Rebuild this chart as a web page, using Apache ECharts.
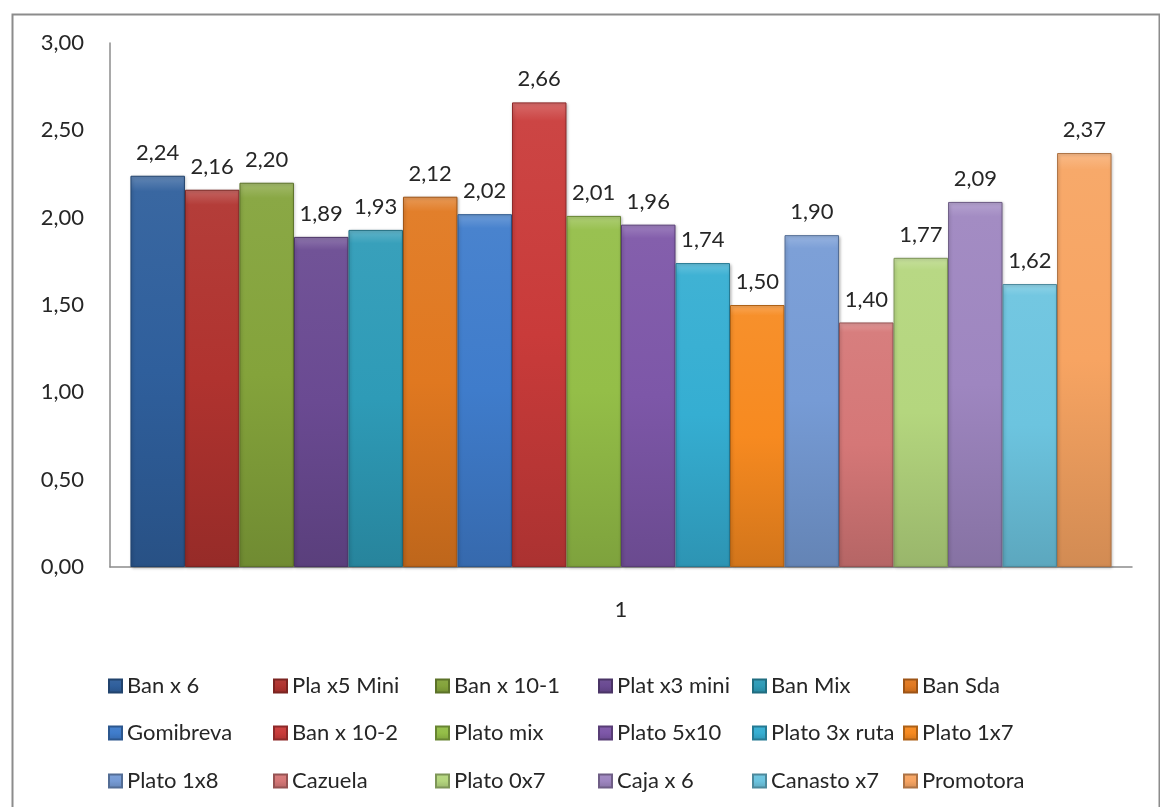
<!doctype html>
<html lang="es">
<head>
    <meta charset="UTF-8" />
    <title>Precios por producto</title>
    <style>
        html, body { margin: 0; padding: 0; background: #fff; }
        #chart { width: 1160px; height: 807px; }
    </style>
</head>
<body>
    <div id="chart"></div>
    <script src="https://cdn.jsdelivr.net/npm/echarts@6/dist/echarts.min.js"></script>
    <script type="text/javascript">
        // datos
        var categories = ['1'];
        var seriesNames = ['Ban x 6', 'Pla x5 Mini', 'Ban x 10-1', 'Plat x3 mini', 'Ban Mix', 'Ban Sda',
            'Gomibreva', 'Ban x 10-2', 'Plato mix', 'Plato 5x10', 'Plato 3x ruta', 'Plato 1x7',
            'Plato 1x8', 'Cazuela', 'Plato 0x7', 'Caja x 6', 'Canasto x7', 'Promotora'];
        var seriesValues = [2.24, 2.16, 2.20, 1.89, 1.93, 2.12,
            2.02, 2.66, 2.01, 1.96, 1.74, 1.50,
            1.90, 1.40, 1.77, 2.09, 1.62, 2.37];
        var yTicks = [0, 0.5, 1, 1.5, 2, 2.5, 3];

        var colors = ['#2F5F9C', '#B0332F', '#84A33B', '#6A4A92', '#2E9BB7', '#E07820',
            '#3F7CCB', '#C93B3A', '#94BE48', '#7D57A8', '#35AED2', '#F78A20',
            '#769BD5', '#D57777', '#B4D67E', '#9E86C0', '#6CC4DF', '#F7A462'];

        var FONT = 'Lato';
        var TXT = '#262626';

        function coma(v) {
            return v.toFixed(2).replace('.', ',');
        }

        // aclara (f>0) u oscurece (f<0) un color hex
        function shade(hex, f) {
            var n = parseInt(hex.slice(1), 16);
            var c = [(n >> 16) & 255, (n >> 8) & 255, n & 255].map(function (x) {
                var y = f < 0 ? x * (1 + f) : x + (255 - x) * f;
                return Math.round(Math.max(0, Math.min(255, y)));
            });
            return 'rgb(' + c.join(',') + ')';
        }

        var chart = echarts.init(document.getElementById('chart'));

        var series = [];
        var legends = [];
        var legendCols = [103, 268, 430, 593, 747, 898];
        var legendRows = [670, 717, 765];

        for (var i = 0; i < seriesNames.length; i++) {
            series.push({
                name: seriesNames[i],
                type: 'bar',
                data: [seriesValues[i]],
                barGap: '0%',
                barCategoryGap: '4%',
                itemStyle: {
                    color: {
                        type: 'linear', x: 0, y: 0, x2: 0, y2: 1,
                        colorStops: [
                            { offset: 0, color: shade(colors[i], 0.25) },
                            { offset: 0.04, color: shade(colors[i], 0.05) },
                            { offset: 0.5, color: colors[i] },
                            { offset: 1, color: shade(colors[i], -0.15) }
                        ]
                    },
                    borderColor: shade(colors[i], -0.3),
                    borderWidth: 1,
                    shadowColor: 'rgba(0,0,0,0.25)',
                    shadowBlur: 3,
                    shadowOffsetX: 1,
                    shadowOffsetY: 1
                },
                label: {
                    show: true,
                    position: 'top',
                    distance: 12,
                    fontFamily: FONT,
                    fontSize: 22,
                    color: TXT,
                    formatter: function (p) { return coma(p.value); }
                }
            });
            legends.push({
                data: [seriesNames[i]],
                left: legendCols[i % 6],
                top: legendRows[Math.floor(i / 6)],
                icon: 'rect',
                itemWidth: 13,
                itemHeight: 13,
                selectedMode: false,
                textStyle: {
                    fontFamily: FONT,
                    fontSize: 22,
                    color: TXT
                }
            });
        }

        var option = {
            animation: false,
            color: colors,
            textStyle: { fontFamily: FONT },
            grid: { left: 110, right: 28, top: 43, bottom: 240, containLabel: false },
            graphic: [{
                type: 'rect',
                left: 10,
                top: 12,
                shape: { width: 1147, height: 830 },
                style: { fill: 'none', stroke: '#8C8C8C', lineWidth: 2 },
                silent: true
            }],
            legend: legends,
            xAxis: {
                type: 'category',
                data: categories,
                axisLine: { lineStyle: { color: '#8C8C8C', width: 1.5 } },
                axisTick: { show: false },
                axisLabel: { fontFamily: FONT, fontSize: 22, color: TXT, margin: 32 }
            },
            yAxis: {
                type: 'value',
                min: yTicks[0],
                max: yTicks[yTicks.length - 1],
                interval: yTicks[1] - yTicks[0],
                axisLine: { show: true, lineStyle: { color: '#8C8C8C', width: 1.5 } },
                axisTick: { show: false },
                splitLine: { show: false },
                axisLabel: {
                    fontFamily: FONT, fontSize: 22, color: TXT, margin: 26,
                    formatter: function (v) { return coma(v); }
                }
            },
            series: series
        };

        chart.setOption(option);
    </script>
</body>
</html>
